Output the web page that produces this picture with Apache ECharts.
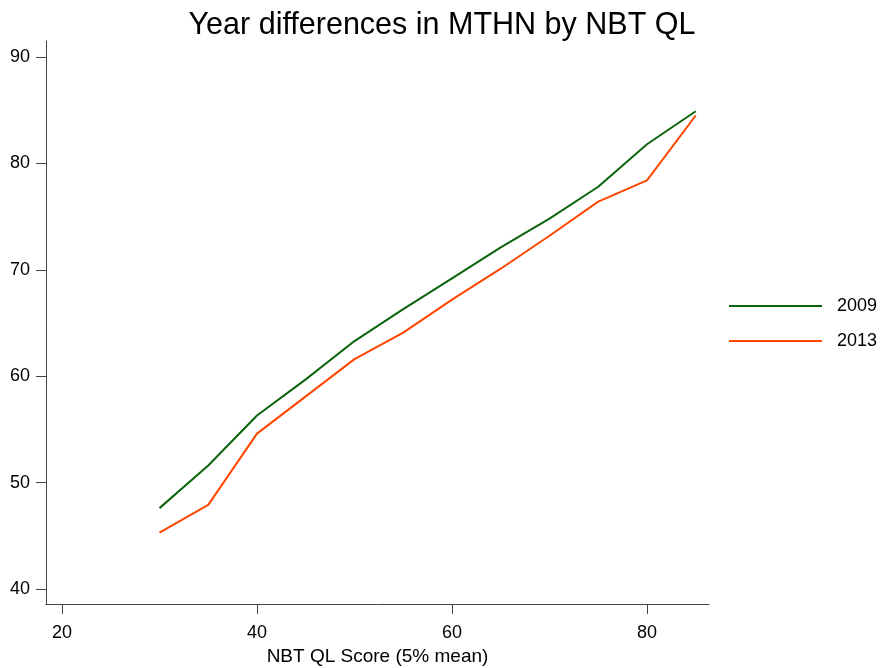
<!DOCTYPE html>
<html><head><meta charset="utf-8">
<script src="https://cdn.jsdelivr.net/npm/echarts@6/dist/echarts.min.js"></script>
<style>html,body{margin:0;padding:0;background:#fff}#c{width:883px;height:668px}</style>
</head><body><div id="c"></div>
<script>
const xScores = [30, 35, 40, 45, 50, 55, 60, 65, 70, 75, 80, 85];
const y2009 = [47.6, 51.6, 56.3, 59.7, 63.3, 66.3, 69.2, 72.1, 74.8, 77.8, 81.8, 84.9];
const y2013 = [45.3, 47.9, 54.6, 58.1, 61.6, 64.1, 67.2, 70.1, 73.2, 76.4, 78.4, 84.5];
const xTicks = [20, 40, 60, 80];
const yTicks = [40, 50, 60, 70, 80, 90];

const font = 'Liberation Sans, Arial, sans-serif';
const chart = echarts.init(document.getElementById('c'));
chart.setOption({
  animation: false,
  title: {
    text: 'Year differences in MTHN by NBT QL',
    left: 437, textAlign: 'center', top: 5,
    textStyle: {fontFamily: font, fontSize: 30.5, fontWeight: 'normal', color: '#000'}
  },
  legend: {
    orient: 'vertical', left: 724, top: 292, itemGap: 17,
    itemWidth: 93, itemHeight: 2, icon: 'rect',
    textStyle: {fontFamily: font, fontSize: 18, color: '#000', padding: [0, 0, 0, 10]},
    data: ['2009', '2013']
  },
  grid: {left: 46, right: 174, top: 41, bottom: 64, outerBoundsMode: 'none', containLabel: false},
  xAxis: {
    type: 'value', min: 18.36, max: 86.36,
    name: 'NBT QL Score (5% mean)', nameLocation: 'middle', nameGap: 37,
    nameTextStyle: {fontFamily: font, fontSize: 19, color: '#000'},
    axisLine: {show: true, lineStyle: {color: '#444', width: 1}},
    axisTick: {show: true, length: 10, customValues: xTicks, lineStyle: {color: '#444'}},
    axisLabel: {customValues: xTicks, margin: 20, fontFamily: font, fontSize: 18, color: '#000'},
    splitLine: {show: false}
  },
  yAxis: {
    type: 'value', min: 38.59, max: 91.5,
    axisLine: {show: true, lineStyle: {color: '#444', width: 1}},
    axisTick: {show: true, length: 10, customValues: yTicks, lineStyle: {color: '#444'}},
    axisLabel: {customValues: yTicks, margin: 16, fontFamily: font, fontSize: 18, color: '#000'},
    splitLine: {show: false}
  },
  series: [
    {name: '2009', type: 'line', data: xScores.map((x, i) => [x, y2009[i]]),
     showSymbol: false, lineStyle: {color: '#0b640b', width: 2}, itemStyle: {color: '#0b640b'}},
    {name: '2013', type: 'line', data: xScores.map((x, i) => [x, y2013[i]]),
     showSymbol: false, lineStyle: {color: '#ff4500', width: 2}, itemStyle: {color: '#ff4500'}}
  ]
});
</script></body></html>
